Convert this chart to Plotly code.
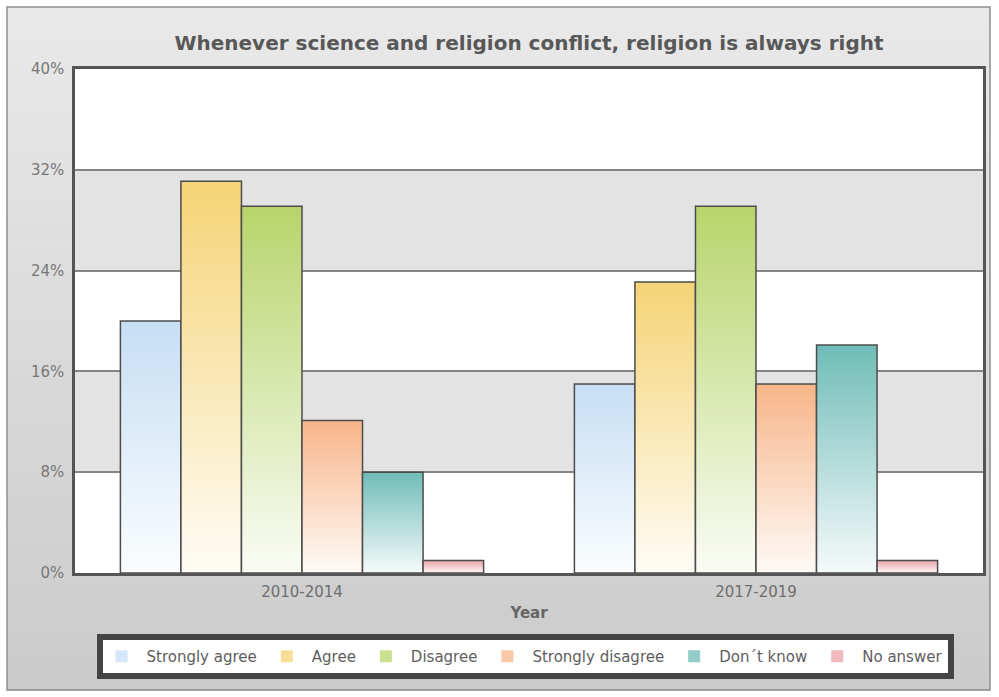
import plotly.graph_objects as go

# Survey answers by period (percent of respondents)
years = ["2010-2014", "2017-2019"]
responses = ["Strongly agree", "Agree", "Disagree", "Strongly disagree", "Don´t know", "No answer"]
strongly_agree = [20.0, 15.0]
agree = [31.1, 23.1]
disagree = [29.1, 29.1]
strongly_disagree = [12.1, 15.0]
dont_know = [8.0, 18.1]
no_answer = [1.0, 1.0]
y_ticks = [0, 8, 16, 24, 32, 40]
y_tick_text = [f"{t}%" for t in y_ticks]

series_values = [strongly_agree, agree, disagree, strongly_disagree, dont_know, no_answer]
top_colors = ["#c6def4", "#f5d476", "#b8d46b", "#f7b589", "#6fbcb8", "#eaa2a9"]

W, H = 999, 697
M_L, M_R, M_T, M_B = 75, 16, 69, 124
PW, PH = W - M_L - M_R, H - M_T - M_B


def px_to_paper_x(px):
    return (px - M_L) / PW


def px_to_paper_y(py):
    return (H - M_B - py) / PH


def hex_rgb(h):
    h = h.lstrip("#")
    return tuple(int(h[i:i + 2], 16) for i in (0, 2, 4))


def mix(c1, c2, t):
    a, b = hex_rgb(c1), hex_rgb(c2)
    return "rgb(%d,%d,%d)" % tuple(round(a[k] + (b[k] - a[k]) * t) for k in range(3))


fig = go.Figure()

group_width = 0.8
bar_w = group_width / len(responses)
for j, (name, vals, col) in enumerate(zip(responses, series_values, top_colors)):
    bottom_col = mix(col, "#ffffff", 0.93)
    for i, v in enumerate(vals):
        x0 = i - group_width / 2 + j * bar_w
        x1 = x0 + bar_w
        fig.add_trace(go.Scatter(
            x=[x0, x0, x1, x1, x0],
            y=[0, v, v, 0, 0],
            mode="lines",
            fill="toself",
            fillgradient=dict(type="vertical", start=0, stop=v,
                              colorscale=[[0, bottom_col], [1, col]]),
            line=dict(color="#4c4c4c", width=1.5),
            name=name,
            legendgroup=name,
            showlegend=False,
            hoverinfo="skip",
        ))
    # legend swatch for the series
    fig.add_trace(go.Bar(
        x=[None], y=[None],
        name=name, legendgroup=name, showlegend=True,
        marker=dict(color=mix(col, "#ffffff", 0.25), line=dict(width=0)),
        hoverinfo="skip",
    ))

shapes = []
# outer panel with a soft vertical gray gradient
frame_top, frame_bot, frame_l, frame_r = 7, 690, 7, 990
n_strips = 70
step = (frame_bot - frame_top) / n_strips
for k in range(n_strips):
    t = k / (n_strips - 1)
    shapes.append(dict(
        type="rect", xref="paper", yref="paper", layer="below",
        x0=px_to_paper_x(frame_l), x1=px_to_paper_x(frame_r),
        y0=px_to_paper_y(frame_top + k * step), y1=px_to_paper_y(frame_top + (k + 1) * step + 0.6),
        fillcolor=mix("#e9e9e9", "#cbcbcb", t), line=dict(width=0),
    ))
shapes.append(dict(
    type="rect", xref="paper", yref="paper", layer="below",
    x0=px_to_paper_x(frame_l), x1=px_to_paper_x(frame_r),
    y0=px_to_paper_y(frame_top), y1=px_to_paper_y(frame_bot),
    fillcolor="rgba(0,0,0,0)", line=dict(color="#8f8f8f", width=1.5),
))
# alternating horizontal bands in the plot area
for k in range(len(y_ticks) - 1):
    shapes.append(dict(
        type="rect", xref="x", yref="y", layer="below",
        x0=-0.5, x1=1.5, y0=y_ticks[k], y1=y_ticks[k + 1],
        fillcolor="#ffffff" if k % 2 == 0 else "#e3e3e3", line=dict(width=0),
    ))

font_family = "DejaVu Sans, Verdana, sans-serif"

fig.update_layout(
    width=W, height=H,
    margin=dict(l=M_L, r=M_R, t=M_T, b=M_B),
    paper_bgcolor="#ffffff",
    plot_bgcolor="#ffffff",
    shapes=shapes,
    font=dict(family=font_family, color="#6e6e6e", size=14),
    title=dict(
        text="<b>Whenever science and religion conflict, religion is always right</b>",
        x=px_to_paper_x(529), xref="paper", xanchor="center",
        y=1 - 43 / H, yref="container", yanchor="middle",
        font=dict(family=font_family, size=20, color="#585858"),
    ),
    xaxis=dict(
        range=[-0.5, 1.5], tickvals=[0, 1], ticktext=years,
        showgrid=False, zeroline=False,
        showline=True, mirror=True, linecolor="#555555", linewidth=2.5,
        ticks="", ticklabelstandoff=3,
        tickfont=dict(size=15, color="#6e6e6e"),
        title=dict(text="<b>Year</b>", standoff=8, font=dict(size=15, color="#666666")),
        fixedrange=True,
    ),
    yaxis=dict(
        range=[0, 40], tickmode="array", tickvals=y_ticks, ticktext=y_tick_text,
        showgrid=True, gridcolor="#858585", gridwidth=1.5, zeroline=False,
        showline=True, mirror=True, linecolor="#555555", linewidth=2.5,
        ticks="", ticklabelstandoff=5,
        tickfont=dict(size=15, color="#777777"),
        fixedrange=True,
    ),
    legend=dict(
        orientation="h",
        x=px_to_paper_x(525), xanchor="center",
        y=px_to_paper_y(634), yanchor="top",
        bgcolor="#ffffff", bordercolor="#444444", borderwidth=6,
        font=dict(family=font_family, size=15, color="#5e5e5e"),
        itemclick=False, itemdoubleclick=False,
        itemwidth=40,
    ),
    showlegend=True,
)

fig.write_html("out.html")
